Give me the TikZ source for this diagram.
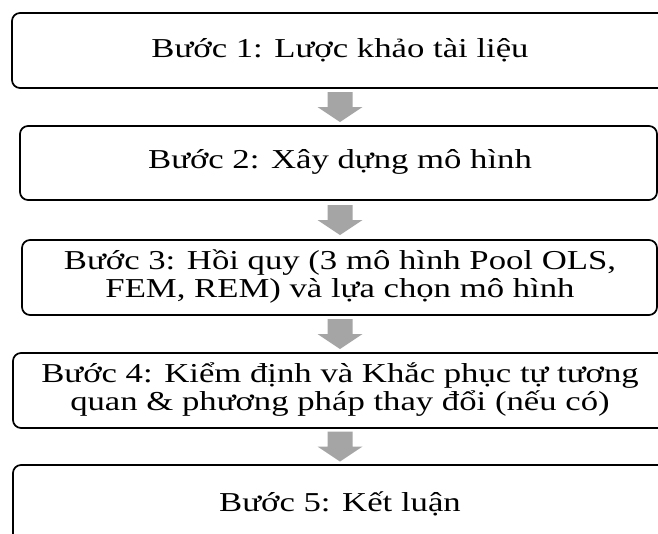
\documentclass[tikz,border=0pt]{standalone}
\usepackage{fontspec}
\setmainfont{Liberation Serif}[FakeStretch=1.27]
\usetikzlibrary{fit,calc}
\definecolor{arrowgray}{HTML}{A5A5A5}
\tikzset{
  stepbox/.style={draw=black, line width=1.3pt, rounded corners=6pt, inner sep=0pt},
  steptext/.style={align=center, font=\fontsize{20.5pt}{20.5pt}\selectfont, inner sep=0pt},
  downarrow/.pic={
    \fill[arrowgray] (-12.5,-15) -- (12.5,-15) -- (12.5,0) -- (22.5,0)
      -- (0,15) -- (-22.5,0) -- (-12.5,0) -- cycle;
  }
}
\begin{document}
\begin{tikzpicture}[x=0.75pt, y=-0.75pt]
  \clip (0,0) rectangle (658,533);
  \fill[white] (0,0) rectangle (658,533);

  % step boxes
  \node[stepbox, fit={(12,13) (700,88)}] (b1) {};
  \node[stepbox, fit={(20,126) (657,200)}] (b2) {};
  \node[stepbox, fit={(22,240) (657,315)}] (b3) {};
  \node[stepbox, fit={(13,353) (700,428)}] (b4) {};
  \node[stepbox, fit={(13,465) (700,560)}] (b5) {};

  % step labels
  \coordinate (ax) at (340,0);
  \node[steptext] (t1) at (340,50) {Bước 1: Lược khảo tài liệu};
  \node[steptext] (t2) at (340,162) {Bước 2: Xây dựng mô hình};
  \node[steptext] (t3) at (340,276.5) {Bước 3: Hồi quy (3 mô hình Pool OLS,\\FEM, REM) và lựa chọn mô hình};
  \node[steptext] (t4) at (340,389.5) {Bước 4: Kiểm định và Khắc phục tự tương\\quan \& phương pháp thay đổi (nếu có)};
  \node[steptext] (t5) at (340,504) {Bước 5: Kết luận};

  % block arrows between consecutive steps
  \coordinate (m1) at ($(b1.south)!.5!(b2.north)$);
  \coordinate (m2) at ($(b2.south)!.5!(b3.north)$);
  \coordinate (m3) at ($(b3.south)!.5!(b4.north)$);
  \coordinate (m4) at ($(b4.south)!.5!(b5.north)$);
  \pic at (ax |- m1) {downarrow};
  \pic at (ax |- m2) {downarrow};
  \pic at (ax |- m3) {downarrow};
  \pic at (ax |- m4) {downarrow};
\end{tikzpicture}
\end{document}
